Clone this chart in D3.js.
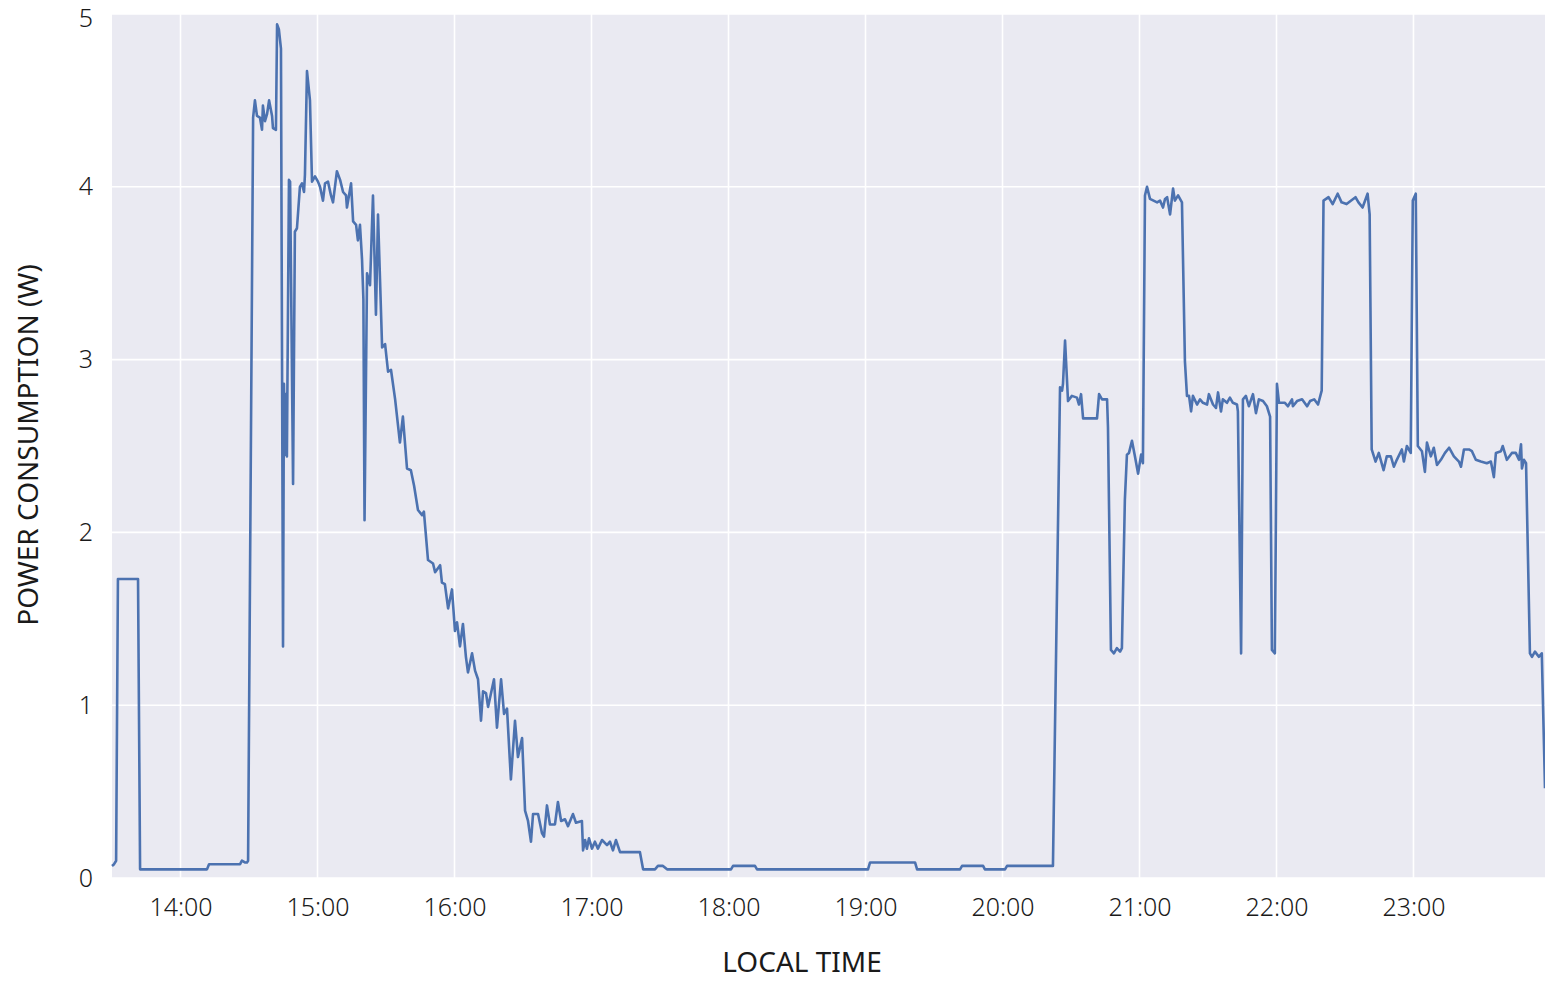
<!DOCTYPE html>
<html>
<head>
<meta charset="utf-8">
<script src="https://cdn.jsdelivr.net/npm/d3@7"></script>
<style>
  body { margin: 0; background: #fff; }
  text { font-family: "Noto Sans", "DejaVu Sans", sans-serif; fill: #1a1a1a; }
</style>
</head>
<body>
<div id="chart"></div>
<script>
// Chart data: minute of day and measured power (W)
var minutes = [
  810.0, 810.9, 811.8, 812.6, 821.4, 822.3, 851.6, 852.5, 866.1, 866.9, 868.2, 869.1, 869.6,
  871.8, 872.6, 873.5, 874.8, 875.7, 876.1, 877.0, 877.9, 878.8, 880.1, 880.5, 881.8, 882.3,
  883.1, 884.0, 884.9, 885.3, 885.8, 886.2, 886.6, 887.5, 888.0, 889.3, 890.1, 891.0, 892.3,
  893.2, 894.1, 894.5, 895.4, 896.7, 897.6, 898.9, 900.2, 901.1, 902.4, 903.3, 904.6, 905.9,
  906.8, 908.5, 909.9, 911.2, 912.5, 912.9, 914.7, 915.6, 916.9, 917.7, 918.6, 919.5, 920.1,
  920.6, 921.7, 923.0, 924.3, 925.6, 926.5, 928.3, 929.6, 930.9, 932.2, 934.0, 936.1, 937.4,
  939.2, 940.9, 942.3, 944.0, 945.8, 946.6, 948.4, 950.6, 951.5, 953.7, 954.5, 955.8, 957.2,
  958.9, 960.2, 961.1, 962.4, 963.7, 965.0, 965.9, 967.7, 969.0, 970.3, 971.6, 972.5, 973.8,
  974.7, 977.3, 978.6, 980.4, 981.7, 983.0, 984.7, 986.5, 987.8, 989.6, 990.9, 992.2, 993.5,
  994.4, 996.6, 998.3, 999.2, 1000.5, 1001.8, 1004.0, 1005.3, 1006.7, 1008.4, 1009.7, 1011.9,
  1013.2, 1015.8, 1016.3, 1017.2, 1018.0, 1018.9, 1020.2, 1021.5, 1022.8, 1024.6, 1026.8,
  1028.1, 1029.4, 1030.7, 1032.5, 1041.2, 1042.6, 1047.8, 1049.1, 1051.3, 1053.1, 1081.1,
  1082.0, 1091.6, 1092.5, 1141.1, 1142.0, 1161.7, 1162.6, 1181.4, 1182.3, 1191.5, 1192.3,
  1201.1, 1202.0, 1222.1, 1225.2, 1226.1, 1226.5, 1227.4, 1228.7, 1230.4, 1232.6, 1233.5,
  1234.4, 1235.3, 1241.4, 1242.3, 1243.6, 1245.8, 1246.2, 1247.5, 1248.8, 1250.1, 1251.5,
  1252.3, 1253.6, 1254.5, 1255.4, 1256.7, 1258.0, 1259.4, 1260.7, 1261.5, 1262.4, 1263.3,
  1264.6, 1267.7, 1269.0, 1270.3, 1271.2, 1272.1, 1273.4, 1274.7, 1275.5, 1276.9, 1278.6,
  1279.9, 1280.8, 1281.7, 1282.6, 1283.4, 1285.2, 1286.5, 1287.8, 1289.6, 1290.4, 1292.2,
  1293.5, 1294.4, 1295.7, 1296.5, 1298.3, 1299.6, 1300.9, 1302.7, 1303.1, 1304.5, 1305.3,
  1306.6, 1307.9, 1309.7, 1311.0, 1312.3, 1314.1, 1315.8, 1317.2, 1318.0, 1319.3, 1320.2,
  1321.1, 1323.7, 1325.0, 1326.8, 1327.2, 1329.0, 1331.2, 1333.4, 1334.7, 1336.5, 1338.2,
  1339.8, 1340.6, 1342.8, 1344.6, 1346.8, 1348.5, 1350.7, 1354.6, 1355.9, 1357.7, 1359.9,
  1360.8, 1361.7, 1363.4, 1364.8, 1366.9, 1368.3, 1370.1, 1371.4, 1372.7, 1374.9, 1375.8,
  1377.1, 1378.8, 1379.7, 1381.0, 1381.9, 1383.7, 1385.0, 1385.9, 1387.6, 1388.9, 1390.3,
  1392.0, 1393.8, 1395.6, 1397.7, 1399.9, 1400.8, 1402.1, 1404.3, 1405.6, 1407.3, 1409.5,
  1412.1, 1413.9, 1415.2, 1416.1, 1418.3, 1419.1, 1420.9, 1423.1, 1424.8, 1426.2, 1427.1,
  1427.5, 1428.4, 1429.3, 1431.0, 1431.9, 1433.2, 1434.9, 1436.2, 1437.6
];

var watts = [
  0.07, 0.08, 0.10, 1.73, 1.73, 0.05, 0.05, 0.08, 0.08, 0.10, 0.09, 0.09, 0.10,
  4.40, 4.50, 4.41, 4.40, 4.33, 4.47, 4.38, 4.42, 4.50, 4.41, 4.34, 4.33, 4.94,
  4.91, 4.80, 1.34, 2.86, 2.45, 2.80, 2.44, 4.04, 4.03, 2.28, 3.74, 3.76, 4.00,
  4.02, 3.97, 4.07, 4.67, 4.50, 4.03, 4.06, 4.03, 4.00, 3.92, 4.02, 4.03, 3.95,
  3.91, 4.09, 4.04, 3.97, 3.95, 3.88, 4.02, 3.80, 3.78, 3.69, 3.78, 3.58, 3.35,
  2.07, 3.50, 3.43, 3.95, 3.26, 3.84, 3.07, 3.09, 2.93, 2.94, 2.77, 2.52, 2.67,
  2.37, 2.36, 2.27, 2.13, 2.10, 2.12, 1.84, 1.82, 1.77, 1.81, 1.71, 1.70, 1.56,
  1.67, 1.43, 1.48, 1.34, 1.47, 1.28, 1.19, 1.30, 1.20, 1.15, 0.91, 1.08, 1.07,
  0.99, 1.15, 0.87, 1.15, 0.95, 0.98, 0.57, 0.91, 0.70, 0.81, 0.39, 0.33, 0.21,
  0.37, 0.37, 0.26, 0.24, 0.42, 0.31, 0.31, 0.44, 0.33, 0.34, 0.30, 0.37,
  0.32, 0.33, 0.16, 0.22, 0.17, 0.23, 0.17, 0.21, 0.17, 0.22, 0.19,
  0.21, 0.16, 0.22, 0.15, 0.15, 0.05, 0.05, 0.07, 0.07, 0.05, 0.05,
  0.07, 0.07, 0.05, 0.05, 0.09, 0.09, 0.05, 0.05, 0.07, 0.07, 0.05,
  0.05, 0.07, 0.07, 2.84, 2.82, 2.86, 3.11, 2.76, 2.79, 2.78, 2.74,
  2.80, 2.66, 2.66, 2.80, 2.77, 2.77, 2.61, 1.32, 1.30, 1.33, 1.31,
  1.33, 2.19, 2.45, 2.46, 2.53, 2.44, 2.34, 2.45, 2.40, 3.95, 4.00,
  3.93, 3.91, 3.92, 3.88, 3.93, 3.94, 3.84, 3.99, 3.92, 3.95, 3.91,
  2.99, 2.79, 2.79, 2.70, 2.79, 2.74, 2.77, 2.75, 2.74, 2.80, 2.74,
  2.72, 2.81, 2.70, 2.77, 2.75, 2.78, 2.75, 2.74, 2.70, 1.30, 2.77,
  2.79, 2.73, 2.80, 2.69, 2.77, 2.76, 2.73, 2.67, 1.32, 1.30, 2.86,
  2.75, 2.75, 2.73, 2.77, 2.73, 2.76, 2.77, 2.73, 2.76, 2.77, 2.74,
  2.82, 3.92, 3.94, 3.90, 3.96, 3.91, 3.90, 3.94, 3.91, 3.88, 3.96,
  3.84, 2.48, 2.41, 2.46, 2.36, 2.44, 2.44, 2.38, 2.42, 2.48, 2.41,
  2.50, 2.46, 3.92, 3.96, 2.50, 2.47, 2.35, 2.52, 2.44, 2.49, 2.39,
  2.42, 2.46, 2.49, 2.44, 2.41, 2.38, 2.48, 2.48, 2.47, 2.42, 2.41,
  2.40, 2.41, 2.32, 2.46, 2.47, 2.50, 2.42, 2.46, 2.46, 2.42, 2.51,
  2.37, 2.42, 2.40, 1.30, 1.28, 1.31, 1.28, 1.30, 0.52
];

var yTicks = [0, 1, 2, 3, 4, 5];
var xStartMinute = 810;     // 13:30
var xEndMinute = 1437.6;    // ~23:58

// SVG size and margins
var svgWidth = 1545;
var svgHeight = 981;
var margin = { top: 14, right: 0, bottom: 103, left: 112 };
var width = svgWidth - margin.left - margin.right;
var height = svgHeight - margin.top - margin.bottom;

var baseDay = new Date(2000, 0, 1);
function toTime(m) { return new Date(+baseDay + m * 60000); }

var data = minutes.map(function(m, i) {
  return { time: toTime(m), value: watts[i] };
});

var svg = d3.select("#chart")
  .append("svg")
  .attr("width", svgWidth)
  .attr("height", svgHeight);

var chartGroup = svg.append("g")
  .attr("transform", `translate(${margin.left}, ${margin.top})`);

// Scales
var xScale = d3.scaleTime()
  .domain([toTime(xStartMinute), toTime(xEndMinute)])
  .range([0, width]);

var yScale = d3.scaleLinear()
  .domain([0, 5])
  .range([height, 0]);

// Background
chartGroup.append("rect")
  .attr("width", width)
  .attr("height", height)
  .attr("fill", "#eaeaf2");

// Grid lines
var xTickVals = xScale.ticks(d3.timeHour.every(1));

chartGroup.append("g")
  .selectAll("line")
  .data(xTickVals)
  .enter()
  .append("line")
  .attr("x1", d => xScale(d))
  .attr("x2", d => xScale(d))
  .attr("y1", 0)
  .attr("y2", height)
  .attr("stroke", "#fff")
  .attr("stroke-width", 1.6);

chartGroup.append("g")
  .selectAll("line")
  .data(yTicks)
  .enter()
  .append("line")
  .attr("x1", 0)
  .attr("x2", width)
  .attr("y1", d => yScale(d))
  .attr("y2", d => yScale(d))
  .attr("stroke", "#fff")
  .attr("stroke-width", 1.6);

// Axes (labels only, no domain lines or tick marks)
var xAxis = d3.axisBottom(xScale)
  .tickValues(xTickVals)
  .tickFormat(d3.timeFormat("%H:%M"))
  .tickSize(0)
  .tickPadding(20);

var yAxis = d3.axisLeft(yScale)
  .tickValues(yTicks)
  .tickFormat(d3.format("d"))
  .tickSize(0)
  .tickPadding(19);

var xAxisG = chartGroup.append("g")
  .attr("transform", `translate(0, ${height})`)
  .call(xAxis);

var yAxisG = chartGroup.append("g").call(yAxis);

[xAxisG, yAxisG].forEach(function(g) {
  g.select(".domain").remove();
  g.selectAll("text")
    .style("font-family", "'Noto Sans', sans-serif")
    .style("font-weight", 300)
    .style("font-size", "25px")
    .style("fill", "#1a1a1a");
});

// keep the top "5" label inside the picture
yAxisG.selectAll(".tick text")
  .filter(d => d === 5)
  .attr("dy", "0.5em");

// The line
var line = d3.line()
  .x(d => xScale(d.time))
  .y(d => yScale(d.value));

chartGroup.append("path")
  .datum(data)
  .attr("fill", "none")
  .attr("stroke", "#4c72b0")
  .attr("stroke-width", 2.6)
  .attr("stroke-linejoin", "round")
  .attr("d", line);

// Axis titles
svg.append("text")
  .attr("x", 802)
  .attr("y", 972)
  .attr("text-anchor", "middle")
  .style("font-size", "28px")
  .text("LOCAL TIME");

svg.append("text")
  .attr("transform", `translate(38, 445) rotate(-90)`)
  .attr("text-anchor", "middle")
  .style("font-size", "28px")
  .text("POWER CONSUMPTION (W)");
</script>
</body>
</html>
